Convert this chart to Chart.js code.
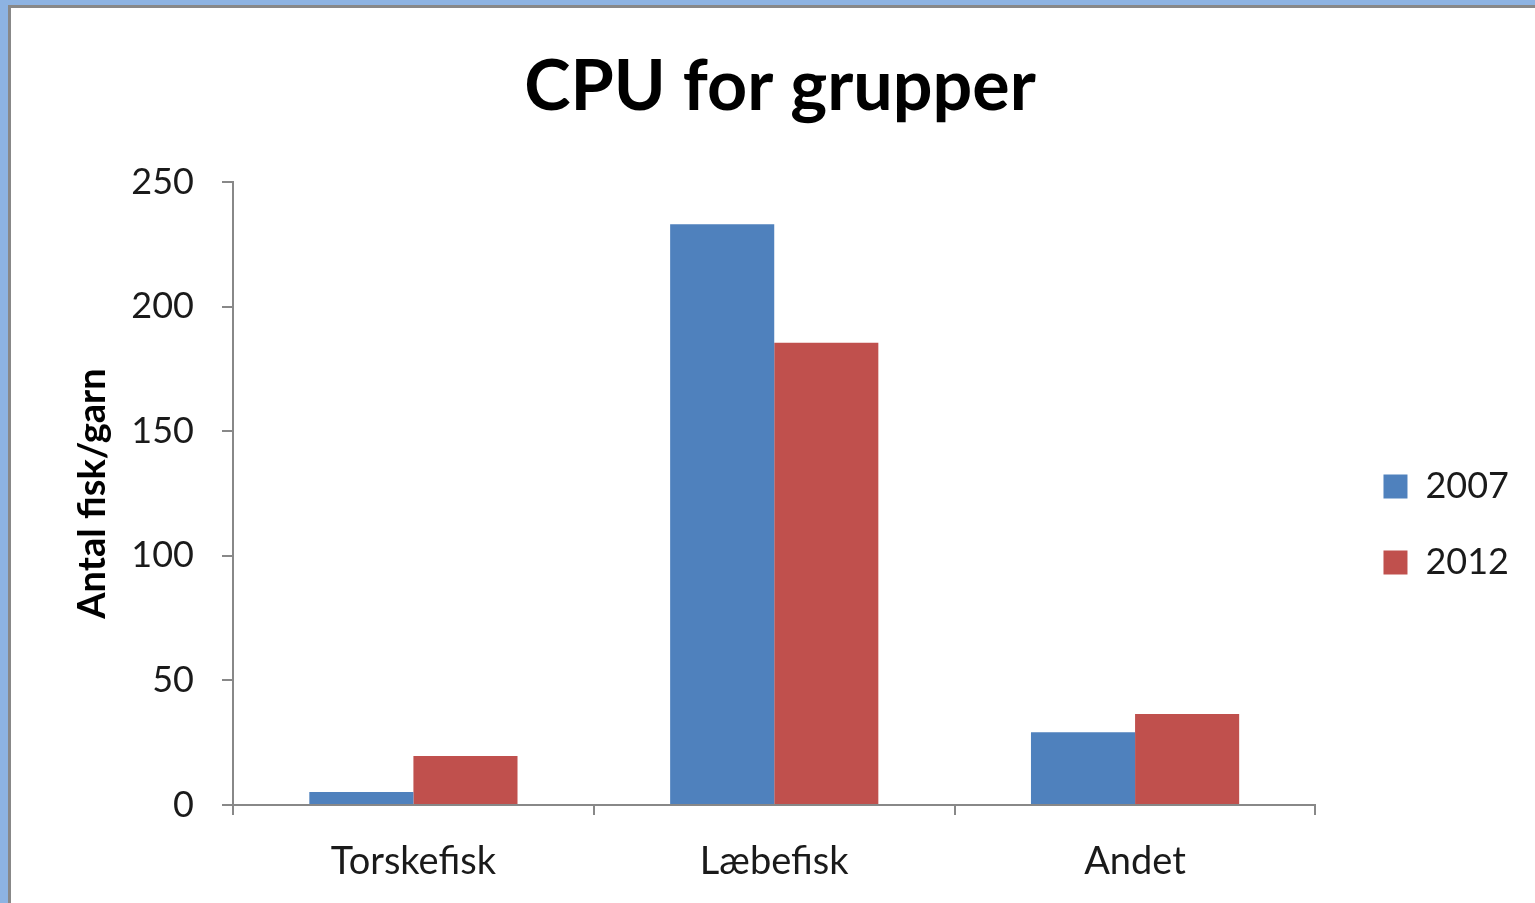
<!DOCTYPE html>
<html>
<head>
<meta charset="utf-8">
<script src="https://cdn.jsdelivr.net/npm/chart.js@4"></script>
<style>
  html, body { margin: 0; padding: 0; background: #fff; overflow: hidden; }
  #wrap { position: relative; width: 1535px; height: 903px; }
  canvas { position: absolute; left: 0; top: 0; }
  .frame { position: absolute; pointer-events: none; }
</style>
</head>
<body>
<div id="wrap">
  <canvas id="chart1" width="1535" height="903"></canvas>
  <div class="frame" style="left:0;top:0;width:1535px;height:5px;background:#8db3e2"></div>
  <div class="frame" style="left:0;top:0;width:8px;height:903px;background:#8db3e2"></div>
  <div class="frame" style="left:8px;top:5px;width:1527px;height:3px;background:#888"></div>
  <div class="frame" style="left:8px;top:5px;width:3px;height:898px;background:#888"></div>
</div>
<script>
const categories = ["Torskefisk", "Læbefisk", "Andet"];
const values2007 = [5.2, 233, 29.2];
const values2012 = [19.7, 185.5, 36.5];
const seriesLabels = ["2007", "2012"];
const yTicks = [0, 50, 100, 150, 200, 250];

const fontFamily = "Lato, 'Open Sans', sans-serif";
const axisColor = '#888888';

// nudge the legend block to where Excel puts it (right of the plot, a bit lower)
const legendShift = {
    id: 'legendShift',
    afterLayout(chart) {
        const lg = chart.legend;
        if (!lg) return;
        lg.left += 28; lg.right += 28;
        lg.top += 73; lg.bottom += 73;
    }
};

function drawChart() {
    const ctx = document.getElementById('chart1').getContext('2d');

    new Chart(ctx, {
        type: 'bar',
        data: {
            labels: categories,
            datasets: [{
                label: seriesLabels[0],
                data: values2007,
                backgroundColor: '#4f81bd',
                borderWidth: 0
            }, {
                label: seriesLabels[1],
                data: values2012,
                backgroundColor: '#c0504d',
                borderWidth: 0
            }]
        },
        plugins: [legendShift],
        options: {
            responsive: false,
            animation: false,
            layout: {
                padding: { left: 69, right: 44, top: 0, bottom: 0 }
            },
            datasets: {
                bar: { barPercentage: 1, categoryPercentage: 0.577 }
            },
            plugins: {
                title: {
                    display: true,
                    text: 'CPU for grupper',
                    color: '#000',
                    font: { family: fontFamily, size: 70, weight: 'bold' },
                    padding: { top: 45, bottom: 53 }
                },
                legend: {
                    position: 'right',
                    labels: {
                        boxWidth: 24,
                        boxHeight: 24,
                        padding: 40,
                        color: '#1a1a1a',
                        font: { family: fontFamily, size: 36 }
                    }
                },
                tooltip: { enabled: false }
            },
            scales: {
                x: {
                    grid: {
                        drawOnChartArea: false,
                        drawTicks: true,
                        tickLength: 10,
                        color: axisColor,
                        lineWidth: 2
                    },
                    border: { display: true, color: axisColor, width: 2 },
                    ticks: {
                        color: '#1a1a1a',
                        padding: 24,
                        font: { family: fontFamily, size: 38 }
                    },
                    afterFit: scale => { scale.height = 98; }
                },
                y: {
                    min: 0,
                    max: 250,
                    afterBuildTicks: scale => {
                        scale.ticks = yTicks.map(v => ({ value: v }));
                    },
                    grid: {
                        drawOnChartArea: false,
                        drawTicks: true,
                        tickLength: 11,
                        color: axisColor,
                        lineWidth: 2
                    },
                    border: { display: true, color: axisColor, width: 2 },
                    ticks: {
                        color: '#1a1a1a',
                        padding: 28,
                        font: { family: fontFamily, size: 36 }
                    },
                    title: {
                        display: true,
                        text: 'Antal fisk/garn',
                        color: '#000',
                        font: { family: fontFamily, size: 38, weight: 'bold' },
                        padding: { top: 1, bottom: 0 }
                    },
                    afterFit: scale => { scale.width = 164; }
                }
            }
        }
    });
}

drawChart();
</script>
</body>
</html>
